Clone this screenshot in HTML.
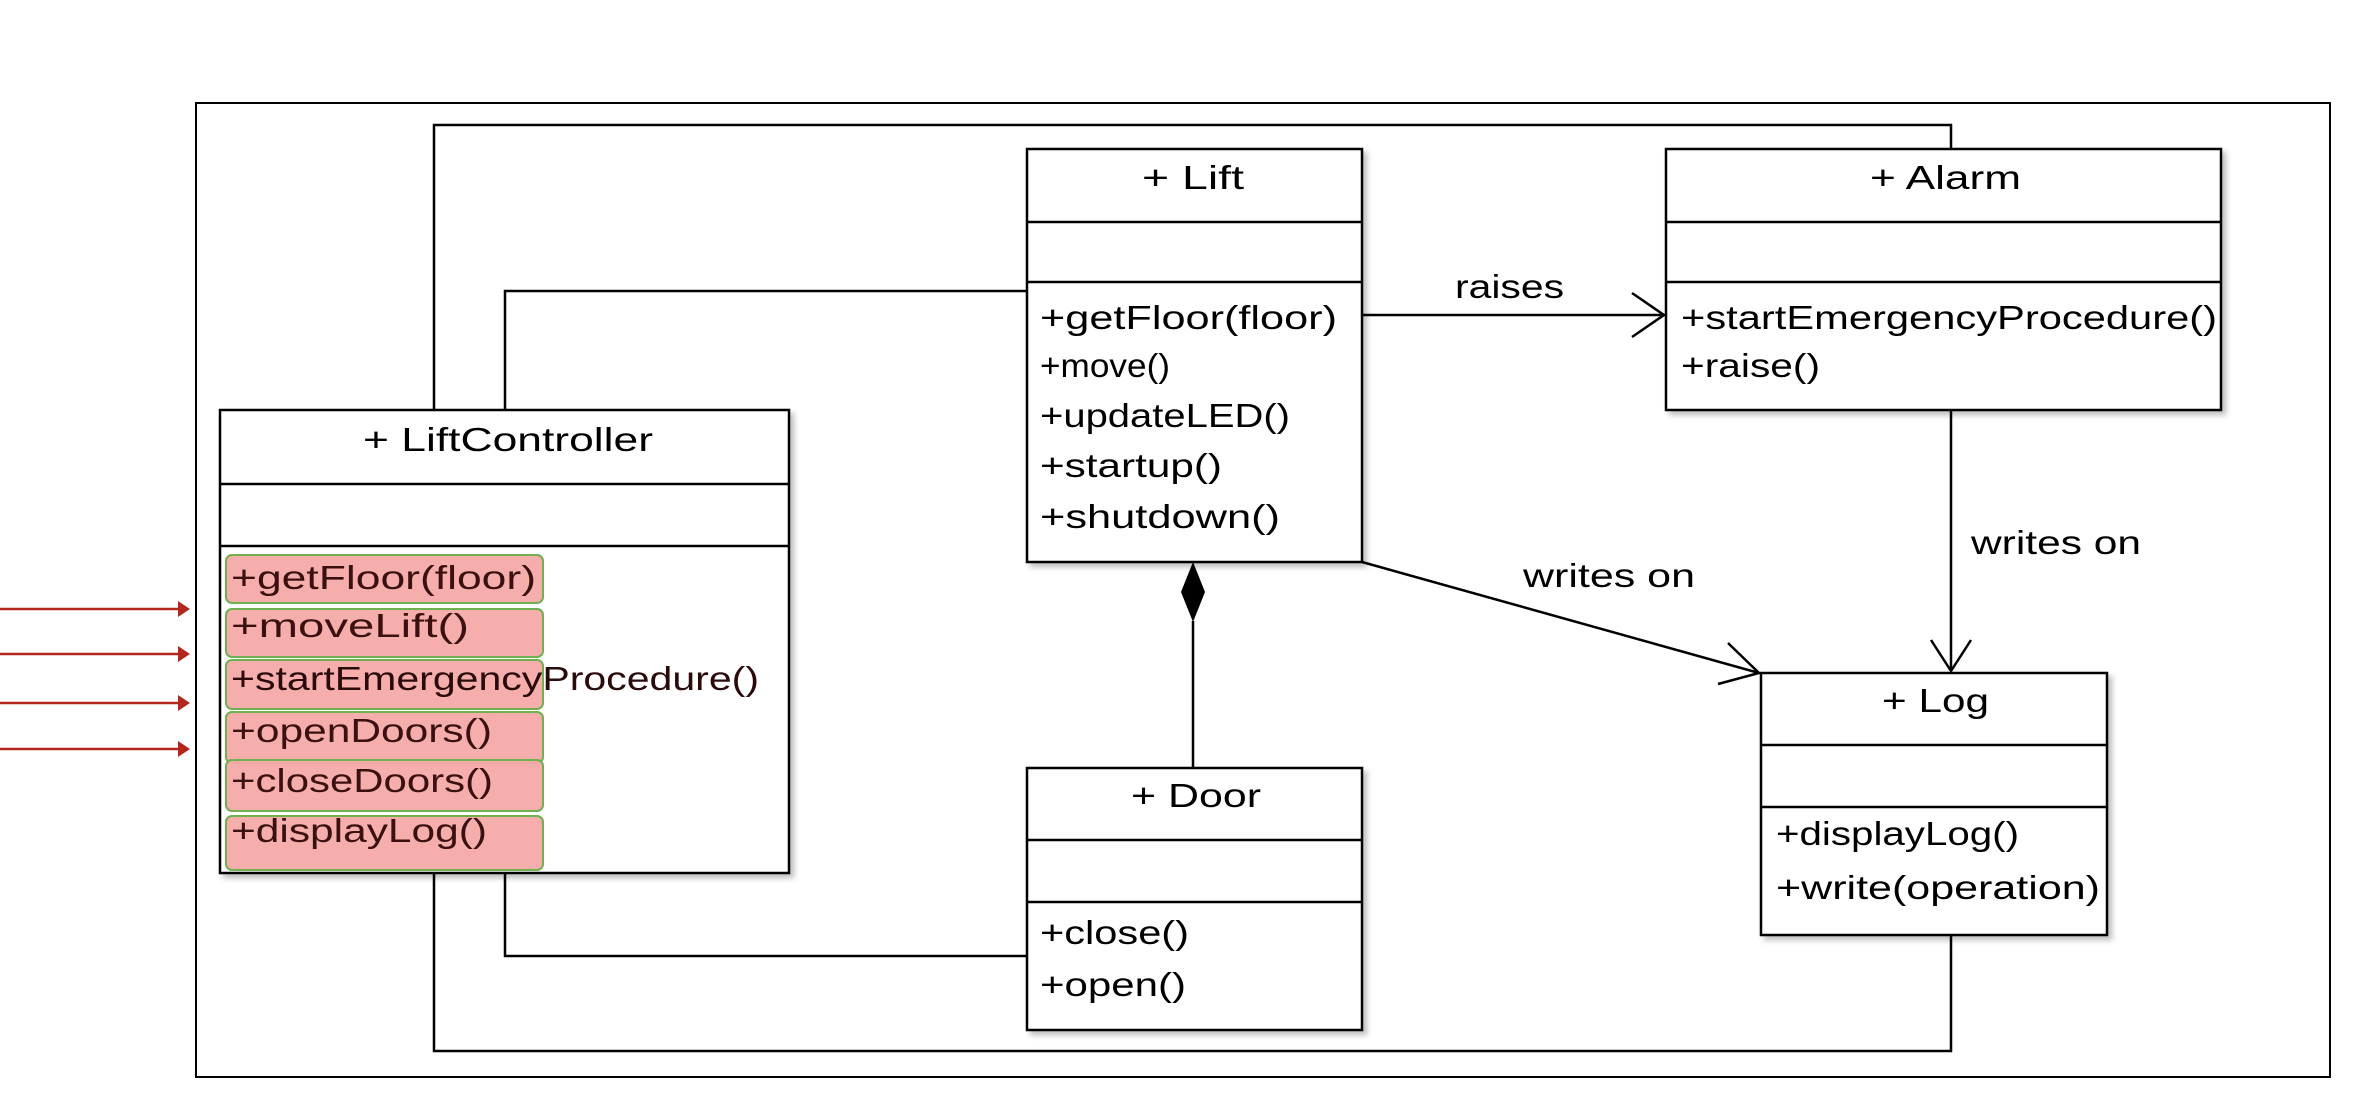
<!DOCTYPE html>
<html><head><meta charset="utf-8"><style>html,body{margin:0;padding:0;background:#fff}svg{display:block}</style></head>
<body>
<svg width="2364" height="1108" viewBox="0 0 2364 1108" xmlns="http://www.w3.org/2000/svg" font-family="Liberation Sans, sans-serif" font-size="33" fill="#000">
<defs><filter id="sh" x="-5%" y="-5%" width="115%" height="115%"><feDropShadow dx="4" dy="4" stdDeviation="3" flood-color="#000" flood-opacity="0.25"/></filter></defs>
<rect x="196" y="103" width="2134" height="974" fill="none" stroke="#000" stroke-width="2"/>
<g fill="none" stroke="#000" stroke-width="2.5">
<polyline points="434,410 434,125 1951,125 1951,149"/>
<polyline points="434,873 434,1051 1951,1051 1951,935"/>
<polyline points="505,410 505,291 1027,291"/>
<polyline points="505,873 505,956 1027,956"/>
<line x1="1362" y1="315" x2="1664" y2="315"/>
<polyline points="1632,293 1664,315 1632,337"/>
<line x1="1362" y1="562" x2="1759" y2="673"/>
<polyline points="1728,643 1759,673 1718,684"/>
<line x1="1951" y1="410" x2="1951" y2="671"/>
<polyline points="1931,640 1951,671 1971,640"/>
<line x1="1193" y1="621" x2="1193" y2="768"/>
</g>
<polygon points="1193,562 1205,592 1193,622 1181,592" fill="#000"/>
<g stroke="#b3261e" stroke-width="2.5" fill="#b3261e">
<line x1="0" y1="609" x2="180" y2="609"/><polygon points="178,601 190,609 178,617" stroke="none"/>
<line x1="0" y1="654" x2="180" y2="654"/><polygon points="178,646 190,654 178,662" stroke="none"/>
<line x1="0" y1="703" x2="180" y2="703"/><polygon points="178,695 190,703 178,711" stroke="none"/>
<line x1="0" y1="749" x2="180" y2="749"/><polygon points="178,741 190,749 178,757" stroke="none"/>
</g>
<g fill="#fff" stroke="#000" stroke-width="2.5" filter="url(#sh)">
<rect x="1027" y="149" width="335" height="413"/>
<rect x="1666" y="149" width="555" height="261"/>
<rect x="220" y="410" width="569" height="463"/>
<rect x="1027" y="768" width="335" height="262"/>
<rect x="1761" y="673" width="346" height="262"/>
</g>
<g stroke="#000" stroke-width="2.5">
<line x1="1027" y1="222" x2="1362" y2="222"/><line x1="1027" y1="282" x2="1362" y2="282"/>
<line x1="1666" y1="222" x2="2221" y2="222"/><line x1="1666" y1="282" x2="2221" y2="282"/>
<line x1="220" y1="484" x2="789" y2="484"/><line x1="220" y1="546" x2="789" y2="546"/>
<line x1="1027" y1="840" x2="1362" y2="840"/><line x1="1027" y1="902" x2="1362" y2="902"/>
<line x1="1761" y1="745" x2="2107" y2="745"/><line x1="1761" y1="807" x2="2107" y2="807"/>
</g>
<g fill="#f4aaa6" stroke="#6fb04f" stroke-width="2" fill-opacity="0.95">
<rect x="226" y="555" width="317" height="48" rx="6"/>
<rect x="226" y="609" width="317" height="48" rx="6"/>
<rect x="226" y="660" width="317" height="49" rx="6"/>
<rect x="226" y="712" width="317" height="51" rx="6"/>
<rect x="226" y="760" width="317" height="51" rx="6"/>
<rect x="226" y="816" width="317" height="54" rx="6"/>
</g>
<g lengthAdjust="spacingAndGlyphs">
<text x="1142" y="189" textLength="102" lengthAdjust="spacingAndGlyphs">+ Lift</text>
<text x="1040" y="329" textLength="297" lengthAdjust="spacingAndGlyphs">+getFloor(floor)</text>
<text x="1040" y="377" textLength="130" lengthAdjust="spacingAndGlyphs">+move()</text>
<text x="1040" y="427" textLength="250" lengthAdjust="spacingAndGlyphs">+updateLED()</text>
<text x="1040" y="477" textLength="182" lengthAdjust="spacingAndGlyphs">+startup()</text>
<text x="1040" y="528" textLength="240" lengthAdjust="spacingAndGlyphs">+shutdown()</text>
<text x="1870" y="189" textLength="151" lengthAdjust="spacingAndGlyphs">+ Alarm</text>
<text x="1681" y="329" textLength="536" lengthAdjust="spacingAndGlyphs">+startEmergencyProcedure()</text>
<text x="1681" y="377" textLength="139" lengthAdjust="spacingAndGlyphs">+raise()</text>
<text x="363" y="451" textLength="290" lengthAdjust="spacingAndGlyphs">+ LiftController</text>
<text x="231" y="589" textLength="305" lengthAdjust="spacingAndGlyphs" fill="#3a1010">+getFloor(floor)</text>
<text x="231" y="637" textLength="238" lengthAdjust="spacingAndGlyphs" fill="#3a1010">+moveLift()</text>
<text x="231" y="690" textLength="528" lengthAdjust="spacingAndGlyphs" fill="#2a0a0a">+startEmergencyProcedure()</text>
<text x="231" y="742" textLength="261" lengthAdjust="spacingAndGlyphs" fill="#3a1010">+openDoors()</text>
<text x="231" y="792" textLength="262" lengthAdjust="spacingAndGlyphs" fill="#3a1010">+closeDoors()</text>
<text x="231" y="842" textLength="256" lengthAdjust="spacingAndGlyphs" fill="#3a1010">+displayLog()</text>
<text x="1131" y="807" textLength="130" lengthAdjust="spacingAndGlyphs">+ Door</text>
<text x="1040" y="944" textLength="149" lengthAdjust="spacingAndGlyphs">+close()</text>
<text x="1040" y="996" textLength="146" lengthAdjust="spacingAndGlyphs">+open()</text>
<text x="1882" y="712" textLength="107" lengthAdjust="spacingAndGlyphs">+ Log</text>
<text x="1776" y="845" textLength="243" lengthAdjust="spacingAndGlyphs">+displayLog()</text>
<text x="1776" y="899" textLength="324" lengthAdjust="spacingAndGlyphs">+write(operation)</text>
<text x="1455" y="298" textLength="109" lengthAdjust="spacingAndGlyphs">raises</text>
<text x="1523" y="587" textLength="172" lengthAdjust="spacingAndGlyphs">writes on</text>
<text x="1971" y="554" textLength="170" lengthAdjust="spacingAndGlyphs">writes on</text>
</g>
</svg>
</body></html>
